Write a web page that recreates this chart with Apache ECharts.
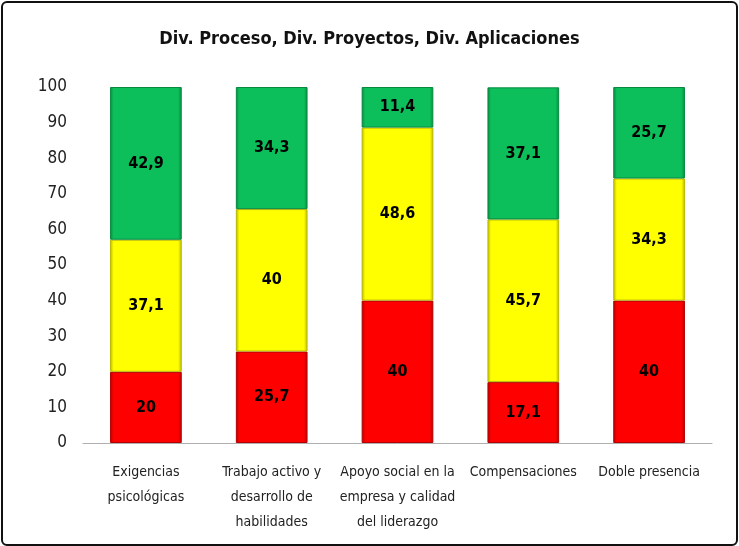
<!DOCTYPE html>
<html>
<head>
<meta charset="utf-8">
<script src="https://cdn.jsdelivr.net/npm/echarts@6/dist/echarts.min.js"></script>
<style>
  html, body { margin: 0; padding: 0; background: #fff; }
  #frame { position: absolute; left: 1px; top: 1px; width: 733px; height: 541px; border: 2px solid #111; border-radius: 6px; }
  #chart { position: absolute; left: 0; top: 0; width: 739px; height: 546px; }
</style>
</head>
<body>
<div id="frame"></div>
<div id="chart"></div>
<script>
const categories = [
  'Exigencias\npsicológicas',
  'Trabajo activo y\ndesarrollo de\nhabilidades',
  'Apoyo social en la\nempresa y calidad\ndel liderazgo',
  'Compensaciones',
  'Doble presencia'
];
const redValues = [20, 25.7, 40, 17.1, 40];
const yellowValues = [37.1, 40, 48.6, 45.7, 34.3];
const greenValues = [42.9, 34.3, 11.4, 37.1, 25.7];
const yTicks = { min: 0, max: 100, interval: 10 };

const FONT = '"DejaVu Sans Condensed", "Liberation Sans Narrow", sans-serif';

// Slightly darker vertical edges give the bars a bevelled look
function bevel(base, edge) {
  return {
    type: 'linear', x: 0, y: 0, x2: 1, y2: 0,
    colorStops: [
      { offset: 0, color: edge },
      { offset: 0.05, color: base },
      { offset: 0.95, color: base },
      { offset: 1, color: edge }
    ]
  };
}

function makeSeries(name, data, base, edge) {
  return {
    name: name,
    type: 'bar',
    stack: 'total',
    barWidth: '57%',
    data: data,
    itemStyle: { color: bevel(base, edge), borderColor: edge, borderWidth: 1 },
    label: {
      show: true,
      position: 'inside',
      color: '#000',
      fontWeight: 'bold',
      fontSize: 16,
      fontFamily: FONT,
      formatter: p => String(p.value).replace('.', ',')
    }
  };
}

const chart = echarts.init(document.getElementById('chart'), null, { renderer: 'canvas' });
chart.setOption({
  animation: false,
  backgroundColor: 'transparent',
  title: {
    text: 'Div. Proceso, Div. Proyectos, Div. Aplicaciones',
    left: 'center',
    top: 25,
    textStyle: { fontFamily: FONT, fontWeight: 'bold', fontSize: 18, color: '#111' }
  },
  grid: { left: 83, right: 27, top: 87, bottom: 103, containLabel: false },
  xAxis: {
    type: 'category',
    data: categories,
    axisLine: { lineStyle: { color: '#b0b0b0', width: 1 } },
    axisTick: { show: false },
    axisLabel: {
      interval: 0,
      margin: 17,
      color: '#222',
      fontSize: 14,
      lineHeight: 25,
      fontFamily: FONT
    }
  },
  yAxis: {
    type: 'value',
    min: yTicks.min,
    max: yTicks.max,
    interval: yTicks.interval,
    axisLine: { show: false },
    axisTick: { show: false },
    splitLine: { show: false },
    axisLabel: { color: '#222', fontSize: 17, margin: 16, fontFamily: FONT }
  },
  series: [
    makeSeries('Rojo', redValues, '#ff0000', '#b30000'),
    makeSeries('Amarillo', yellowValues, '#ffff00', '#b8b800'),
    makeSeries('Verde', greenValues, '#0cbf5a', '#078a40')
  ]
});
</script>
</body>
</html>
